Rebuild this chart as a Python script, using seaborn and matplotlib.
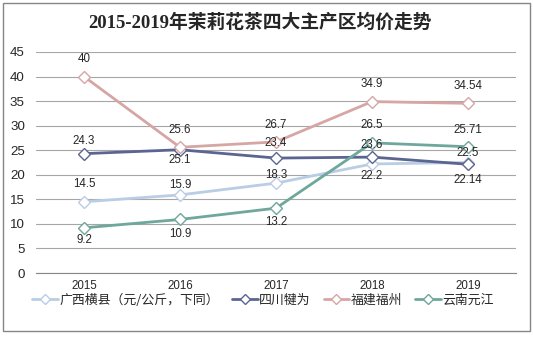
import matplotlib
matplotlib.use("Agg")
import matplotlib.pyplot as plt
import seaborn as sns
import pandas as pd
from matplotlib.patches import Rectangle
from matplotlib.lines import Line2D

years = ["2015", "2016", "2017", "2018", "2019"]
series_names = ["广西横县（元/公斤，下同）", "四川犍为", "福建福州", "云南元江"]
guangxi = [14.5, 15.9, 18.3, 22.2, 22.5]
sichuan = [24.3, 25.1, 23.4, 23.6, 22.14]
fujian = [40, 25.6, 26.7, 34.9, 34.54]
yunnan = [9.2, 10.9, 13.2, 26.5, 25.71]
label_texts = {
    "广西横县（元/公斤，下同）": ["14.5", "15.9", "18.3", "22.2", "22.5"],
    "四川犍为": ["24.3", "25.1", "23.4", "23.6", "22.14"],
    "福建福州": ["40", "25.6", "26.7", "34.9", "34.54"],
    "云南元江": ["9.2", "10.9", "13.2", "26.5", "25.71"],
}

colors = ["#b9cde5", "#5b6591", "#d6a6a5", "#6fa79c"]
# vertical label offsets in pixels (positive = above the point)
label_dy = {
    "广西横县（元/公斤，下同）": [18, 10, 8, -12, 10],
    "四川犍为": [13, -10, 15, 12, -16],
    "福建福州": [18, 17, 17, 18, 17],
    "云南元江": [-12, -15, -14, 18, 17],
}

values = [guangxi, sichuan, fujian, yunnan]
rows = []
for name, vals in zip(series_names, values):
    for i, (yr, v) in enumerate(zip(years, vals)):
        rows.append({"series": name, "pos": i, "year": yr, "value": v})
df = pd.DataFrame(rows)

sns.set_theme(style="white")
plt.rcParams["font.family"] = ["Liberation Sans", "Noto Sans CJK SC"]

fig = plt.figure(figsize=(5.33, 3.37), dpi=100)
ax = fig.add_axes([36 / 533, 1 - 273 / 337, 480 / 533, 221 / 337])

palette = dict(zip(series_names, colors))
sns.lineplot(data=df, x="pos", y="value", hue="series", hue_order=series_names,
             palette=palette, marker="D", markersize=6.5, markerfacecolor="white",
             markeredgewidth=1.0, linewidth=2.0, ax=ax, legend=False, sort=False)
# keep marker edges in series colour
for line, c in zip(ax.get_lines(), colors):
    line.set_markeredgecolor(c)

for name in series_names:
    sub = df[df.series == name]
    for (_, r), txt, dy in zip(sub.iterrows(), label_texts[name], label_dy[name]):
        ax.annotate(txt, (r.pos, r.value), xytext=(0, dy), textcoords="offset pixels",
                    ha="center", va="center", fontsize=8.3, color="#262626")

ax.set_xlim(-0.5, 4.5)
ax.set_ylim(0, 45)
ax.set_yticks(range(0, 46, 5))
ax.set_xticks(range(5))
ax.set_xticklabels(years)
ax.set_xticks([i - 0.5 for i in range(6)], minor=True)
ax.tick_params(axis="x", which="major", length=0, pad=5, labelsize=8.3, labelcolor="#262626")
ax.tick_params(axis="x", which="minor", length=4, width=0.8, color="#868686", direction="out")
ax.tick_params(axis="y", length=0, pad=8, labelsize=9.6, labelcolor="#262626")
ax.set_xlabel("")
ax.set_ylabel("")
ax.grid(axis="y", color="#a6a6a6", linewidth=0.8)
ax.set_axisbelow(True)
for s in ["left", "right", "top"]:
    ax.spines[s].set_visible(False)
ax.spines["bottom"].set_color("#868686")
ax.spines["bottom"].set_linewidth(0.8)

handles = [Line2D([0], [0], color=c, lw=2.0, marker="D", markersize=5,
                  markerfacecolor="white", markeredgecolor=c) for c in colors]
fig.legend(handles, series_names, loc="center", bbox_to_anchor=(263 / 533, 1 - 300 / 337),
           ncol=4, frameon=False, handlelength=2.0, handletextpad=0.1,
           columnspacing=1.0, prop={"family": ["Noto Sans CJK SC"], "size": 9.3})

fig.text(260 / 533, 1 - 22 / 337, "2015-2019年茉莉花茶四大主产区均价走势", ha="center", va="center",
         fontsize=13.5, fontweight="bold", color="#262626",
         family=["Liberation Serif", "Noto Sans CJK SC"])

fig.patches.append(Rectangle((3 / 533, 1 - 331 / 337), 527 / 533, 328 / 337,
                             transform=fig.transFigure, fill=False,
                             edgecolor="#868686", linewidth=1.0))

fig.savefig("out.png", dpi=100)
